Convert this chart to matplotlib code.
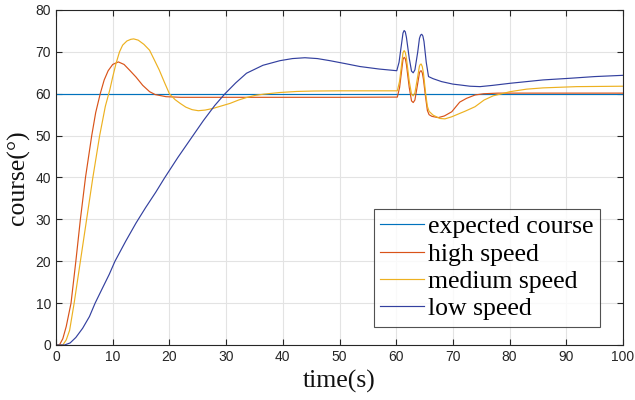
import matplotlib
matplotlib.use("Agg")
import matplotlib.pyplot as plt

# ── Data ──────────────────────────────────────────────────────────────────────

t_expected = [0, 100]
expected = [60, 60]

t_high = [0, 0.6, 1.2, 1.8, 2.65, 3.5, 4.3, 5.2, 6.3, 7.0, 7.8, 8.5, 9.2, 10.0,
          11.0, 12.0, 13.0, 14.1, 15.3, 16.5, 17.5, 19.4, 22, 30, 40, 50, 60.2,
          60.6, 61.0, 61.2, 61.4, 61.6, 61.8, 62.3, 62.7, 63.0, 63.3, 63.8, 64.1,
          64.25, 64.4, 64.6, 64.8, 65.2, 65.5, 65.8, 66.3, 67.4, 68.5, 69.8, 71.2,
          72.4, 73.9, 75.4, 78, 85, 100]
high = [0, 0, 1.5, 4.4, 10, 20, 30, 40, 50, 55.5, 60, 63.3, 65.5, 67,
        67.6, 67, 65.6, 64, 62, 60.5, 59.8, 59.3, 59.15, 59.15, 59.15, 59.15, 59.2,
        61.5, 66, 68.2, 68.7, 68.4, 67, 61.5, 58.3, 57.9, 58.5, 62.5, 65,
        65.4, 65.5, 65.0, 63.5, 59, 56, 55, 54.6, 54.3, 54.7, 55.7, 58.0,
        58.9, 59.7, 60.0, 60.15, 60.15, 60.15]

t_medium = [0, 1.2, 1.8, 2.4, 3.2, 4.3, 5.4, 6.5, 7.7, 8.7, 9.5, 10.0, 10.6, 11.2,
            11.75, 12.5, 13.2, 13.7, 14.5, 15.5, 16.5, 17.3, 18.2, 19.1, 20.0, 21.0,
            21.9, 22.9, 24.0, 25.1, 26.3, 27.7, 29.2, 30.7, 32.2, 33.6, 35.1, 36.6,
            39.5, 42.5, 45.4, 50, 60.2, 60.6, 61.0, 61.2, 61.4, 61.6, 61.8, 62.3,
            62.7, 63.0, 63.3, 63.8, 64.1, 64.25, 64.4, 64.6, 64.8, 65.2, 65.5, 65.8,
            66.5, 67.7, 68.6, 69.8, 71.2, 72.1, 73.9, 75.5, 77.1, 80.1, 83, 85.9,
            91.8, 100]
medium = [0, 0, 1.2, 3.5, 10, 20, 30, 40, 50, 57, 61, 64, 67.3, 70.0,
          71.6, 72.6, 73.0, 73.1, 72.8, 71.8, 70.4, 68.2, 65.7, 62.8, 60, 58.6,
          57.7, 56.8, 56.2, 55.95, 56.1, 56.5, 57.1, 57.7, 58.5, 59.1, 59.6, 59.9,
          60.3, 60.55, 60.65, 60.7, 60.7, 63, 67.5, 69.8, 70.3, 69.9, 68.5, 63,
          59.9, 59.5, 60.2, 64.2, 66.6, 67.0, 67.1, 66.5, 65, 60, 57, 55.8,
          54.9, 54.1, 54.0, 54.5, 55.3, 55.8, 56.9, 58.5, 59.5, 60.5, 61.1, 61.4,
          61.7, 61.8]

t_low = [0, 1.5, 2.5, 3.5, 4.7, 5.9, 6.9, 8.2, 9.4, 10.4, 12.3, 14.1, 15.8, 17.6,
         19.1, 21.5, 23.9, 26.0, 28.0, 29.8, 31.7, 33.6, 36.5, 39.5, 41.7, 43.9,
         46.1, 48.3, 51.0, 53.6, 57, 60.1, 60.5, 61.0, 61.2, 61.4, 61.6, 61.8, 62.3,
         62.7, 63.0, 63.3, 63.8, 64.1, 64.3, 64.5, 64.7, 64.9, 65.3, 65.7, 66.5,
         68.0, 70, 71.25, 73, 74.8, 77, 80.1, 85.9, 90.7, 95, 100]
low = [0, 0, 0.5, 1.8, 4, 6.8, 10, 13.6, 16.9, 20, 24.8, 29.1, 32.8, 36.5,
       39.8, 44.8, 49.5, 53.6, 57.2, 60, 62.6, 64.9, 66.8, 67.9, 68.4, 68.6,
       68.4, 67.9, 67.2, 66.5, 65.9, 65.5, 67.5, 72.5, 74.5, 75.1, 74.8, 73.5, 68.5,
       65.4, 65.0, 65.7, 70, 73.2, 74.0, 74.2, 73.8, 72.5, 67.5, 64.1, 63.6,
       62.9, 62.3, 62.1, 61.8, 61.7, 62, 62.5, 63.3, 63.7, 64.1, 64.4]

labels = ["expected course", "high speed", "medium speed", "low speed"]
x_ticks = list(range(0, 101, 10))
y_ticks = list(range(0, 81, 10))

# ── Style ─────────────────────────────────────────────────────────────────────

BLUE   = "#0072BD"
ORANGE = "#D95319"
YELLOW = "#EDB120"
NAVY   = "#33409F"
AXIS   = "#262626"
SERIF  = "Liberation Serif"
SANS   = "Liberation Sans"

fig = plt.figure(figsize=(6.35, 4.0), dpi=100)
ax = fig.add_axes([56 / 635, 55 / 400, 567 / 635, 335 / 400])

ax.plot(t_expected, expected, color=BLUE, linewidth=0.85, label=labels[0])
ax.plot(t_high, high, color=ORANGE, linewidth=0.85, label=labels[1])
ax.plot(t_medium, medium, color=YELLOW, linewidth=0.85, label=labels[2])
ax.plot(t_low, low, color=NAVY, linewidth=0.85, label=labels[3])

ax.set_xlim(0, 100)
ax.set_ylim(0, 80)
ax.set_xticks(x_ticks)
ax.set_yticks(y_ticks)
ax.grid(True, color="#e3e3e3", linewidth=0.8)
ax.set_axisbelow(True)
ax.tick_params(direction="in", length=4, width=0.8, colors=AXIS,
               top=True, right=True, labeltop=False, labelright=False,
               labelsize=10)
for lbl in ax.get_xticklabels() + ax.get_yticklabels():
    lbl.set_fontfamily(SANS)
for spine in ax.spines.values():
    spine.set_color(AXIS)
    spine.set_linewidth(0.8)

ax.set_xlabel("time(s)", fontfamily=SERIF, fontsize=18.5, color="#111111", labelpad=4)
ax.set_ylabel("course(°)", fontfamily=SERIF, fontsize=18.5, color="#111111", labelpad=4)

leg = ax.legend(loc="lower right", bbox_to_anchor=(0.959, 0.054),
                prop={"family": SERIF, "size": 18.5}, frameon=True, fancybox=False,
                handlelength=1.7, handletextpad=0.15, borderpad=0.25,
                labelspacing=0.17, borderaxespad=0)
leg.get_frame().set_edgecolor(AXIS)
leg.get_frame().set_linewidth(0.8)

fig.savefig("out.png", dpi=100)
